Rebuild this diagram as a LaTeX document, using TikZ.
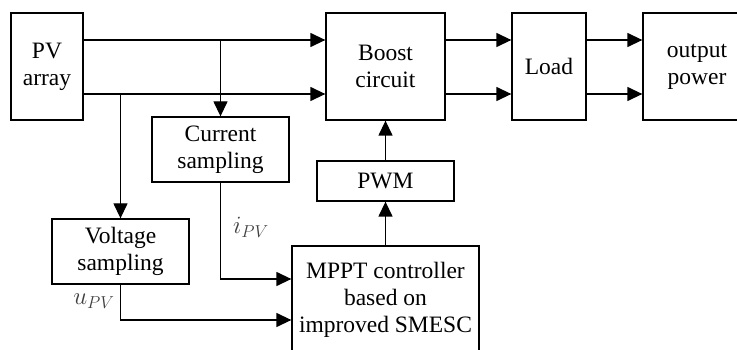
\documentclass[tikz,border=0pt]{standalone}
\usepackage{fontspec}
\setmainfont{Liberation Serif}
\usetikzlibrary{arrows.meta}
\tikzset{
  blk/.style={draw, rectangle, line width=1.3pt, inner sep=0pt, font=\fontsize{23.5}{27}\selectfont},
  sig/.style={line width=1.3pt, -{Triangle[length=15pt,width=14pt]}},
  lbl/.style={text=black!75, font=\fontsize{23}{27}\selectfont}
}
\begin{document}
\begin{tikzpicture}[x=1pt, y=-1pt]
    \useasboundingbox (0,0) rectangle (737,350);

    % Power path
    \node[blk, minimum width=72pt, minimum height=107pt] (pv) at (47,66.5) {\parbox{70pt}{\centering PV\\array}};
    \node[blk, minimum width=119pt, minimum height=107pt] (boost) at (385.5,66.5) {\parbox{115pt}{\centering Boost\\circuit}};
    \node[blk, minimum width=74pt, minimum height=107pt] (load) at (549,66.5) {\parbox{72pt}{\centering Load}};
    \node[blk, minimum width=108pt, minimum height=107pt] (out) at (697,66.5) {\parbox{104pt}{\centering output\\power}};

    % Sampling
    \node[blk, minimum width=137pt, minimum height=65pt] (cur) at (220.5,149.5) {\parbox{133pt}{\centering Current\\sampling}};
    \node[blk, minimum width=137pt, minimum height=65pt] (volt) at (120.5,251.5) {\parbox{133pt}{\centering Voltage\\sampling}};

    % Control
    \node[blk, minimum width=137pt, minimum height=40pt] (pwm) at (385.5,181) {\parbox{133pt}{\centering PWM}};
    \node[blk, minimum width=187pt, minimum height=108pt] (mppt) at (385.5,300) {\parbox{183pt}{\centering MPPT controller\\based on\\improved SMESC}};

    % Signal labels
    \node[lbl] (ipv) at (251,227) {$i_{PV}$};
    \node[lbl] (upv) at (94,301) {$u_{PV}$};

    % Connections
    \coordinate (pvtop) at ([yshift=26.5pt]pv.east);
    \coordinate (pvbot) at ([yshift=-27.5pt]pv.east);
    \draw[sig] (pvtop) -- ([yshift=26.5pt]boost.west);
    \draw[sig] (pvbot) -- ([yshift=-27.5pt]boost.west);
    \draw[sig] (cur.north |- pvtop) -- (cur.north);
    \draw[sig] (volt.north |- pvbot) -- (volt.north);

    \draw[sig] ([yshift=26.5pt]boost.east) -- ([yshift=26.5pt]load.west);
    \draw[sig] ([yshift=-27.5pt]boost.east) -- ([yshift=-27.5pt]load.west);
    \draw[sig] ([yshift=26.5pt]load.east) -- ([yshift=26.5pt]out.west);
    \draw[sig] ([yshift=-27.5pt]load.east) -- ([yshift=-27.5pt]out.west);

    \draw[sig] (cur.south) |- ([yshift=21pt]mppt.west);
    \draw[sig] (volt.south) |- ([yshift=-20pt]mppt.west);
    \draw[sig] (mppt.north) -- (pwm.south);
    \draw[sig] (pwm.north) -- (boost.south);

\end{tikzpicture}
\end{document}
